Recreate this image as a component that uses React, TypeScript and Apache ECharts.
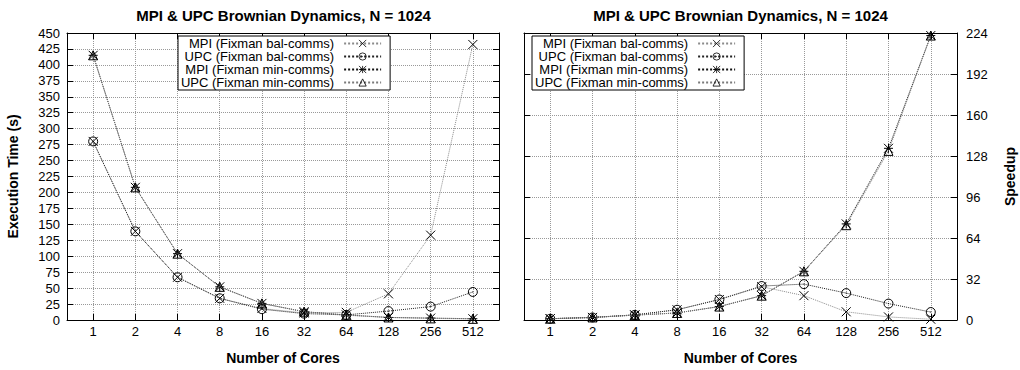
import React, { useEffect, useRef } from "react";
import * as echarts from "echarts";

const cores = ["1", "2", "4", "8", "16", "32", "64", "128", "256", "512"];
const seriesNames = [
  "MPI (Fixman bal-comms)",
  "UPC (Fixman bal-comms)",
  "MPI (Fixman min-comms)",
  "UPC (Fixman min-comms)",
];

const timeMpiBal = [280, 139, 67, 34, 18, 11, 12, 41, 133, 432];
const timeUpcBal = [280, 139, 67, 34, 17, 10, 8, 14, 21, 44];
const timeMpiMin = [415, 208, 104, 52, 26, 13, 8, 4, 3, 2];
const timeUpcMin = [415, 208, 104, 52, 26, 13, 7.5, 4, 2.5, 1.8];

const speedupMpiBal = [1, 2, 4, 8, 16, 26, 19, 6.4, 2.4, 0.6];
const speedupUpcBal = [1, 2, 4, 8, 16, 26.5, 28, 21, 12.8, 6.2];
const speedupMpiMin = [1, 2, 3.8, 5.5, 10.5, 19, 38, 75, 134, 222];
const speedupUpcMin = [1, 2, 3.8, 5.5, 10.5, 19, 38, 74, 132, 222];

const timeTicks = { min: 0, max: 450, interval: 25 };
const speedTicks = { min: 0, max: 224, interval: 32 };

const FONT = "Liberation Sans, Arial, Helvetica, sans-serif";

const SYMBOLS = [
  "path://M0,0L10,10M10,0L0,10",
  "path://M0,5A5,5,0,1,1,10,5A5,5,0,1,1,0,5ZM4.5,5L5.5,5",
  "path://M0,0L10,10M10,0L0,10M5,0L5,10M0,5L10,5",
  "path://M5,0L10,9L0,9Z",
];
const LINE_COLORS = ["#8a8a8a", "#222222", "#111111", "#7a7a7a"];

export default function App() {
  const ref = useRef<HTMLDivElement>(null);

  useEffect(() => {
    if (!ref.current) return;
    const chart = echarts.init(ref.current, null, { renderer: "svg" });

    const xPos = cores.map((c) => Math.log2(Number(c)));
    const tickVals = xPos.slice();
    const xMin = -0.62;
    const xMax = 9.62;

    const makeX = (gridIndex: number, position: "bottom" | "top", main: boolean) => ({
      type: "value",
      gridIndex,
      position,
      min: xMin,
      max: xMax,
      axisLine: { show: true, onZero: false, lineStyle: { color: "#000", width: 1 } },
      axisTick: { show: true, inside: true, length: 6, customValues: tickVals, lineStyle: { color: "#000" } },
      axisLabel: {
        show: main,
        customValues: tickVals,
        margin: 5,
        color: "#000",
        fontSize: 13,
        fontFamily: FONT,
        formatter: (v: number) => {
          const i = xPos.indexOf(v);
          return i >= 0 ? cores[i] : "";
        },
      },
      splitLine: main
        ? { show: true, lineStyle: { color: "#999", type: "dotted", width: 1 } }
        : { show: false },
      name: main ? "Number of Cores" : "",
      nameLocation: "middle",
      nameGap: 31,
      nameTextStyle: { fontWeight: "bold", fontSize: 14, color: "#000", fontFamily: FONT },
    });

    const makeY = (
      gridIndex: number,
      position: "left" | "right",
      main: boolean,
      ticks: { min: number; max: number; interval: number },
      name: string
    ) => ({
      type: "value",
      gridIndex,
      position,
      min: ticks.min,
      max: ticks.max,
      interval: ticks.interval,
      axisLine: { show: true, onZero: false, lineStyle: { color: "#000", width: 1 } },
      axisTick: { show: true, inside: true, length: 6, lineStyle: { color: "#000" } },
      axisLabel: {
        show: main,
        margin: position === "left" ? 7 : 9,
        color: "#000",
        fontSize: 13,
        fontFamily: FONT,
      },
      splitLine: main
        ? { show: true, lineStyle: { color: "#999", type: "dotted", width: 1 } }
        : { show: false },
      name: main ? name : "",
      nameLocation: "middle",
      nameGap: position === "left" ? 47 : 46,
      nameTextStyle: { fontWeight: "bold", fontSize: 14, color: "#000", fontFamily: FONT },
    });

    const makeSeries = (values: number[][], xi: number, yi: number) =>
      values.map((vals, k) => ({
        name: seriesNames[k],
        type: "line",
        xAxisIndex: xi,
        yAxisIndex: yi,
        data: vals.map((v, i) => [xPos[i], v]),
        symbol: SYMBOLS[k],
        symbolSize: 9,
        showAllSymbol: true,
        itemStyle: { color: "none", borderColor: "#000", borderWidth: 1 },
        lineStyle: { color: LINE_COLORS[k], type: "dotted", width: 1 },
        z: 3 + k,
      }));

    const legendBase = {
      orient: "vertical",
      align: "right",
      itemWidth: 37,
      itemHeight: 9,
      itemGap: 0,
      padding: [1, 8, 1, 3],
      borderColor: "#000",
      borderWidth: 1,
      backgroundColor: "#fff",
      data: seriesNames,
      itemStyle: { color: "none", borderColor: "#000", borderWidth: 0.8 },
      textStyle: {
        fontSize: 13,
        lineHeight: 12.7,
        color: "#000",
        fontFamily: FONT,
        padding: [0, 5, 0, 0],
      },
      selectedMode: false,
    };

    const title = "MPI & UPC Brownian Dynamics, N = 1024";

    chart.setOption({
      animation: false,
      backgroundColor: "#fff",
      grid: [
        { left: 67, top: 33, width: 432, height: 291 },
        { left: 524, top: 33, width: 433, height: 291 },
      ],
      xAxis: [makeX(0, "bottom", true), makeX(0, "top", false), makeX(1, "bottom", true), makeX(1, "top", false)],
      yAxis: [
        makeY(0, "left", true, timeTicks, "Execution Time (s)"),
        makeY(0, "right", false, timeTicks, ""),
        makeY(1, "right", true, speedTicks, "Speedup"),
        makeY(1, "left", false, speedTicks, ""),
      ],
      legend: [
        { ...legendBase, left: 178, top: 36 },
        { ...legendBase, left: 532, top: 36 },
      ],
      graphic: [
        {
          type: "text",
          x: 283.5,
          y: 15,
          style: {
            text: title,
            font: `bold 15px ${FONT}`,
            fill: "#000",
            align: "center",
            verticalAlign: "middle",
          },
        },
        {
          type: "text",
          x: 740.5,
          y: 15,
          style: {
            text: title,
            font: `bold 15px ${FONT}`,
            fill: "#000",
            align: "center",
            verticalAlign: "middle",
          },
        },
      ],
      series: [
        ...makeSeries([timeMpiBal, timeUpcBal, timeMpiMin, timeUpcMin], 0, 0),
        ...makeSeries([speedupMpiBal, speedupUpcBal, speedupMpiMin, speedupUpcMin], 2, 2),
      ],
    });

    return () => chart.dispose();
  }, []);

  return (
    <div
      ref={ref}
      style={{ position: "absolute", left: 0, top: 0, width: 1020, height: 370, background: "#fff" }}
    />
  );
}
